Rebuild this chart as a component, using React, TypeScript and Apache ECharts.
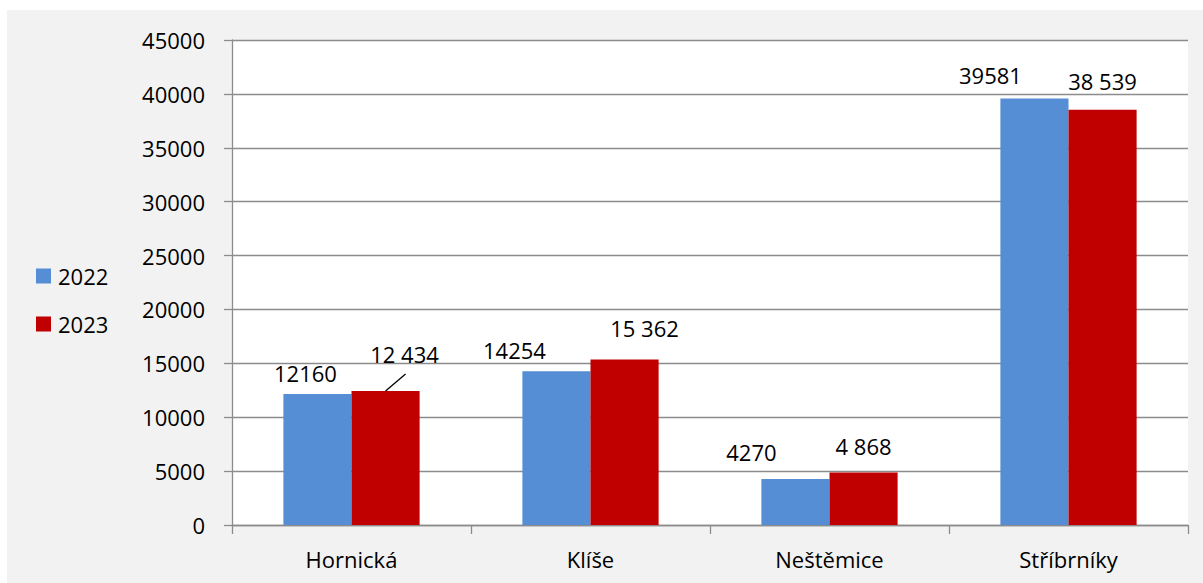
import React, { useEffect, useRef } from "react";
import * as echarts from "echarts";

const categories = ["Hornická", "Klíše", "Neštěmice", "Stříbrníky"];
const values2022 = [12160, 14254, 4270, 39581];
const values2023 = [12434, 15362, 4868, 38539];
const yTicks = { min: 0, max: 45000, interval: 5000 };

// label displacement (px) relative to default "top" position
const labelShift2022 = [[-12, -5], [-42, -5], [-44, -11], [-44, -7]];
const labelShift2023 = [[19, -21], [20, -15], [0, -11], [0, -13]];
const leaderIndex2023 = 0;

const FONT = "Open Sans";
const CATEGORY_GAP = 0.43;

function spaced(v: number): string {
  return String(v).replace(/\B(?=(\d{3})+(?!\d))/g, " ");
}

export default function App() {
  const ref = useRef<HTMLDivElement>(null);
  useEffect(() => {
    if (!ref.current) return;
    const chart = echarts.init(ref.current, null, { renderer: "svg" });
    const gridColor = "#8c8c8c";
    chart.setOption({
      animation: false,
      backgroundColor: "#ffffff",
      textStyle: { fontFamily: FONT },
      graphic: [
        {
          type: "rect",
          z: -10,
          silent: true,
          shape: { x: 7, y: 10, width: 1203, height: 583 },
          style: { fill: "#f2f2f2" },
        },
        {
          type: "rect",
          z: -9,
          silent: true,
          shape: { x: 232, y: 40, width: 956, height: 485 },
          style: { fill: "#ffffff" },
        },
      ],
      legend: {
        orient: "vertical",
        left: 36,
        top: 265,
        padding: 0,
        itemWidth: 15,
        itemHeight: 15,
        itemGap: 26,
        icon: "rect",
        textStyle: { fontFamily: FONT, fontSize: 22, color: "#000", padding: [0, 0, 0, 2] },
        data: ["2022", "2023"],
      },
      grid: { left: 232, right: 15, top: 40, bottom: 58, containLabel: false },
      xAxis: {
        type: "category",
        data: categories,
        axisLine: { show: true, lineStyle: { color: gridColor, width: 1.3 } },
        axisTick: { show: true, length: 9, lineStyle: { color: gridColor, width: 1.3 } },
        axisLabel: { color: "#000", fontFamily: FONT, fontSize: 22, margin: 23 },
        splitLine: { show: false },
      },
      yAxis: {
        type: "value",
        min: yTicks.min,
        max: yTicks.max,
        interval: yTicks.interval,
        axisLine: { show: true, lineStyle: { color: gridColor, width: 1.3 } },
        axisTick: { show: true, inside: false, length: 8, lineStyle: { color: gridColor, width: 1.3 } },
        axisLabel: {
          color: "#000",
          fontFamily: FONT,
          fontSize: 22,
          margin: 27,
          formatter: (v: number) => String(v),
        },
        splitLine: { show: true, lineStyle: { color: gridColor, width: 1.3 } },
      },
      series: [
        {
          name: "2022",
          type: "bar",
          data: values2022,
          barGap: "0%",
          barCategoryGap: CATEGORY_GAP * 100 + "%",
          itemStyle: { color: "#558ED5" },
          label: {
            show: true,
            position: "top",
            distance: 5,
            color: "#000",
            fontFamily: FONT,
            fontSize: 22,
            formatter: (p: any) => String(p.value),
          },
          labelLayout: (p: any) => {
            const s = labelShift2022[p.dataIndex];
            return { dx: s[0], dy: s[1] };
          },
        },
        {
          name: "2023",
          type: "bar",
          data: values2023,
          barGap: "0%",
          barCategoryGap: CATEGORY_GAP * 100 + "%",
          itemStyle: { color: "#C00000" },
          label: {
            show: true,
            position: "top",
            distance: 5,
            color: "#000",
            fontFamily: FONT,
            fontSize: 22,
            formatter: (p: any) => spaced(p.value),
          },
          labelLayout: (p: any) => {
            const s = labelShift2023[p.dataIndex];
            return { dx: s[0], dy: s[1] };
          },
        },
        {
          name: "leader",
          type: "custom",
          silent: true,
          z: 5,
          data: [[leaderIndex2023, values2023[leaderIndex2023]]],
          renderItem: (params: any, api: any) => {
            const pt = api.coord([api.value(0), api.value(1)]);
            const band = api.size([1, 0])[0];
            const barW = (band * (1 - CATEGORY_GAP)) / 2;
            const x = pt[0] + barW / 2;
            const y = pt[1];
            return {
              type: "line",
              shape: { x1: x, y1: y, x2: x + 20, y2: y - 17 },
              style: { stroke: "#000", lineWidth: 1.3 },
            };
          },
        },
      ],
    });
    return () => chart.dispose();
  }, []);
  return (
    <div
      ref={ref}
      style={{ position: "fixed", left: 0, top: 0, width: 1203, height: 583 }}
    />
  );
}
